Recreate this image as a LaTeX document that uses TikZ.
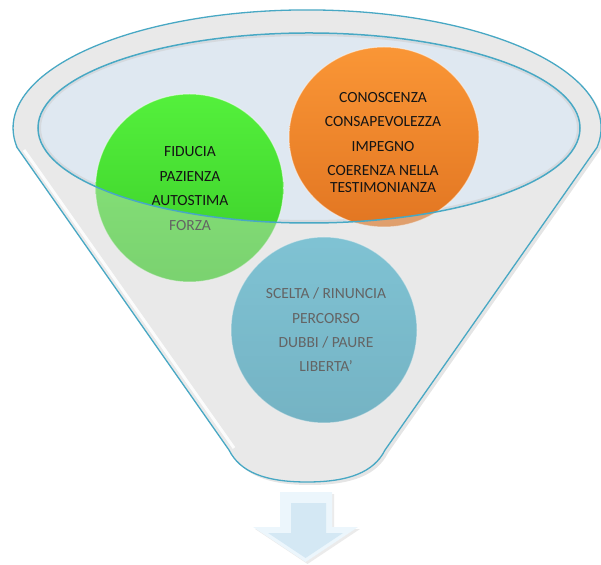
\documentclass[tikz,border=0pt]{standalone}
\usepackage{fontspec}
\setmainfont{Carlito}
\usetikzlibrary{shapes.geometric}
\definecolor{rimline}{RGB}{72,168,196}
\definecolor{funnelbase}{RGB}{243,243,243}
\definecolor{innerfill}{RGB}{223,232,241}
\definecolor{veil}{RGB}{220,220,220}
\definecolor{greentop}{RGB}{84,240,60}
\definecolor{greenbot}{RGB}{58,204,40}
\definecolor{orangetop}{RGB}{250,150,54}
\definecolor{orangebot}{RGB}{226,118,34}
\definecolor{bluetop}{RGB}{66,178,206}
\definecolor{bluebot}{RGB}{48,152,180}
\definecolor{arrowlight}{RGB}{236,246,252}
\definecolor{arrowmid}{RGB}{212,232,244}
\definecolor{txt}{RGB}{20,20,20}
\begin{document}
\begin{tikzpicture}[x=1pt,y=1pt]
\useasboundingbox (0,0) rectangle (601,564);
\tikzset{
  bubble/.style={inner sep=0pt, draw=white, draw opacity=0.5, line width=1pt},
  bubbletext/.style={align=center, inner sep=0pt, text=txt,
    font=\fontsize{15.5}{24.4}\selectfont},
  funnelline/.style={draw=rimline, line width=1.3pt},
}
\def\funnelpath{(17,416.6) -- (229,114) .. controls (240,92) and (265,82) .. (307,82)
  .. controls (349,82) and (374,92) .. (385,114) -- (597,416.6)
  arc[start angle=-9.5, end angle=189.5, x radius=294pt, y radius=118pt] -- cycle}
% shadow
\fill[black, fill opacity=0.10, shift={(3,-3)}] \funnelpath;
% funnel body
\fill[funnelbase] \funnelpath;
% inner opening
\fill[innerfill] (309,436) ellipse [x radius=271pt, y radius=95pt];
\draw[gray!40, line width=2pt, opacity=0.5] (309,436) ellipse [x radius=269pt, y radius=93pt];
% bubbles
\node[bubble, circle, minimum size=188pt, top color=greentop, bottom color=greenbot] (green) at (189.5,376) {};
\node[bubble, ellipse, minimum width=190pt, minimum height=180pt, top color=orangetop, bottom color=orangebot] (orange) at (384,427) {};
\node[bubble, circle, minimum size=186pt, top color=bluetop, bottom color=bluebot] (blue) at (324,234) {};
% texts
\node[bubbletext] (greentext) at (190,375.5) {FIDUCIA\\PAZIENZA\\AUTOSTIMA\\FORZA};
\node[bubbletext] (orangetext) at (383,421.5) {CONOSCENZA\\CONSAPEVOLEZZA\\IMPEGNO\\COERENZA NELLA\\[-7.4pt]TESTIMONIANZA};
\node[bubbletext] (bluetext) at (326,234) {SCELTA / RINUNCIA\\PERCORSO\\DUBBI / PAURE\\LIBERTA'};
% front veil of the funnel
\fill[veil, fill opacity=0.4, even odd rule] \funnelpath (309,436) ellipse [x radius=271pt, y radius=95pt];
% highlights
\draw[white, line width=3pt, opacity=0.9] (24,414) -- (234,116);
\draw[white, line width=3pt, opacity=0.8] (309,436) ++(10:275pt) arc[start angle=10, end angle=170, x radius=275pt, y radius=99pt];
% outlines
\draw[funnelline] \funnelpath;
\draw[rimline, line width=1.5pt] (309,436) ellipse [x radius=271pt, y radius=95pt];
% arrow
\fill[black, fill opacity=0.08, shift={(2,-2)}] (280,72) -- (332,72) -- (332,37) -- (358,37) -- (305.5,2) -- (253,37) -- (280,37) -- cycle;
\fill[arrowlight] (280,72) -- (332,72) -- (332,37) -- (358,37) -- (305.5,2) -- (253,37) -- (280,37) -- cycle;
\fill[arrowmid] (291,61) -- (326,61) -- (326,31) -- (343,31) -- (305.5,6) -- (268,31) -- (291,31) -- cycle;
\end{tikzpicture}
\end{document}
